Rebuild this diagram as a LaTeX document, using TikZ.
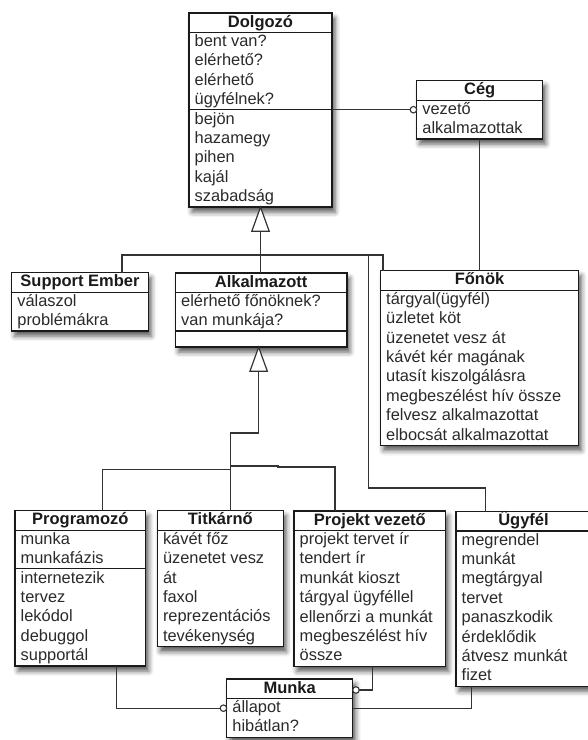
\documentclass[tikz,border=0pt]{standalone}
\usepackage{fontspec}
\setmainfont{Liberation Sans}
\usetikzlibrary{shadows.blur,calc}
\definecolor{ink}{HTML}{1A1A1A}
\definecolor{txtc}{HTML}{2A2A2A}
\definecolor{wire}{HTML}{333333}
\tikzset{
  clsbox/.style={draw=ink, line width=1.5pt, fill=white, inner sep=0pt, outer sep=0pt, anchor=north west,
    blur shadow={shadow xshift=3pt, shadow yshift=-5pt, shadow blur radius=5pt, shadow opacity=65}},
  clstitle/.style={font=\fontsize{16.5}{19.4}\selectfont\bfseries, text=ink, inner sep=0pt, anchor=base},
  clstxt/.style={font=\fontsize{16.4}{19.4}\selectfont, text=txtc, inner sep=0pt, anchor=base west},
  sepline/.style={draw=ink, line width=1.2pt},
  wirestyle/.style={draw=wire, line width=1.2pt},
  inh/.style={draw=wire, line width=1.2pt, fill=white, line join=miter},
  ball/.style={circle, draw=wire, line width=1.1pt, fill=white, minimum size=6.5pt, inner sep=0pt, outer sep=0pt},
}
% box with title compartment: name, x1, y1, x2, y2, title
\newcommand\umlbox[6]{%
  \node[clsbox, minimum width={#4-#2}, minimum height={#5-#3}] (#1) at (#2,#3) {};
  \node[clstitle] (#1-title) at ([yshift=-14pt]#1.north) {#6};
  \draw[sepline] ([yshift=-19.5pt]#1.north west) -- ([yshift=-19.5pt]#1.north east);
}
% text lines: name, list
\newcommand\umllines[2]{%
  \foreach \t [count=\i] in {#2}
    \node[clstxt] (#1-l\i) at ([xshift=5.5pt, yshift={-(33.5+(\i-1)*19.4)*1pt}]#1.north west) {\t};
}
% compartment separator: name, offset from top
\newcommand\umlsep[2]{%
  \draw[sepline] ([yshift=-#2pt]#1.north west) -- ([yshift=-#2pt]#1.north east);
}
\begin{document}
\begin{tikzpicture}[x=1pt, y=-1pt]
\useasboundingbox (0,0) rectangle (588,740);
\clip (0,0) rectangle (588,740);

% ---------- classes ----------
\umlbox{dolg}{189}{13}{332}{207.2}{Dolgozó}
\umllines{dolg}{bent van?,elérhető?,elérhető,ügyfélnek?,bejön,hazamegy,pihen,kajál,szabadság}
\umlsep{dolg}{96.7}

\umlbox{ceg}{416.7}{80.7}{542.7}{139.1}{Cég}
\umllines{ceg}{vezető,alkalmazottak}

\umlbox{sup}{11.7}{272.7}{148.3}{331.1}{Support Ember}
\umllines{sup}{válaszol,problémákra}

\umlbox{alk}{175.5}{273}{346.8}{347.2}{Alkalmazott}
\umllines{alk}{elérhető főnöknek?,van munkája?}
\umlsep{alk}{57.9}

\umlbox{fonok}{380.5}{270.7}{578.5}{445.5}{Főnök}
\umllines{fonok}{tárgyal(ügyfél),üzletet köt,üzenetet vesz át,kávét kér magának,utasít kiszolgálásra,megbeszélést hív össze,felvesz alkalmazottat,elbocsát alkalmazottat}

\umlbox{prog}{15}{510.7}{145.7}{666.1}{Programozó}
\umllines{prog}{munka,munkafázis,internetezik,tervez,lekódol,debuggol,supportál}
\umlsep{prog}{57.9}

\umlbox{tit}{157.3}{510.7}{283.3}{646.7}{Titkárnő}
\umllines{tit}{kávét főz,üzenetet vesz,át,faxol,reprezentációs,tevékenység}

\umlbox{pv}{294}{511}{445.7}{666.4}{Projekt vezető}
\umllines{pv}{projekt tervet ír,tendert ír,munkát kioszt,tárgyal ügyféllel,ellenőrzi a munkát,megbeszélést hív,össze}

\umlbox{ugyfel}{456}{511.5}{591}{686.3}{Ügyfél}
\umllines{ugyfel}{megrendel,munkát,megtárgyal,tervet,panaszkodik,érdeklődik,átvesz munkát,fizet}

\umlbox{munka}{226.7}{679}{352.7}{737.4}{Munka}
\umllines{munka}{állapot,hibátlan?}

% ---------- connectors ----------
% Dolgozo -- Ceg
\coordinate (dsep) at ([yshift=-96.7pt]dolg.north east);
\node[ball, anchor=east] (cegball) at (ceg.west |- dsep) {};
\draw[wirestyle] (dsep) -- (cegball.west);
% Ceg -- Fonok
\draw[wirestyle] (ceg.south) -- (ceg.south |- fonok.north);

% generalisation to Dolgozo
\coordinate (tri1) at ([yshift=-24pt]dolg.south);
\draw[inh] (dolg.south) -- ([xshift=-8.7pt]tri1) -- ([xshift=8.7pt]tri1) -- cycle;
\coordinate (supjoin) at (122,255);
\coordinate (fonjoin) at (383,255);
\coordinate (ugyjoin) at (368.5,255);
\coordinate (ugybend) at (368.5,488);
\coordinate (ugytop) at (485.3,488);
\draw[wirestyle] (tri1) -- (tri1 |- alk.north);
\draw[wirestyle] (supjoin |- sup.north) -- (supjoin) -- (fonjoin) -- (fonjoin |- fonok.north);
\draw[wirestyle] (ugyjoin) -- (ugybend) -- (ugytop) -- (ugytop |- ugyfel.north);

% generalisation to Alkalmazott
\coordinate (tip2) at ([xshift=-2.5pt]alk.south);
\coordinate (tri2) at ([yshift=-24pt]tip2);
\draw[inh] (tip2) -- ([xshift=-8.7pt]tri2) -- ([xshift=8.7pt]tri2) -- cycle;
\coordinate (jogA) at (258.5,433);
\coordinate (jogB) at (230.5,433);
\coordinate (progjoin) at (102.5,469.5);
\coordinate (midL) at (230.5,469.5);
\coordinate (midR) at (230.5,466);
\coordinate (pvstep) at (278,466);
\coordinate (pvjoin) at (335,467);
\draw[wirestyle] (tri2) -- (tri2 |- jogA) -- (jogB) -- (jogB |- tit.north);
\draw[wirestyle] (progjoin |- prog.north) -- (progjoin) -- (midL);
\draw[wirestyle] (midR) -- (pvstep) -- (pvstep |- pvjoin) -- (pvjoin) -- (pvjoin |- pv.north);

% associations to Munka
\coordinate (progx) at (116.7,700);
\node[ball, anchor=east] (mballL) at (munka.west) {};
\draw[wirestyle] (progx |- prog.south) -- (progx |- mballL) -- (mballL.west);

\coordinate (pvx) at (372.7,690);
\node[ball, anchor=west] (mballR) at (munka.east |- pvx) {};
\draw[wirestyle] (pvx |- pv.south) -- (pvx) -- (mballR.east);

\coordinate (ugx) at (471.3,700);
\draw[wirestyle] (ugx |- ugyfel.south) -- (ugx |- munka.east) -- (munka.east);
\end{tikzpicture}
\end{document}
